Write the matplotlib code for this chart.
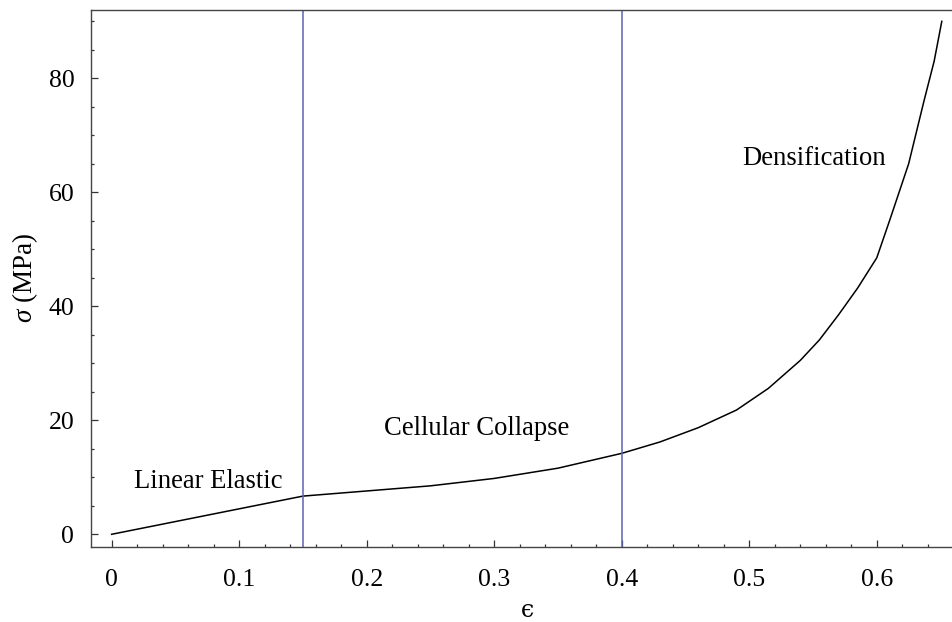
import numpy as np
import matplotlib.pyplot as plt
from matplotlib.ticker import MultipleLocator

# stress-strain curve of a cellular solid under compression
strain = [0, 0.15, 0.2, 0.25, 0.3, 0.35, 0.4, 0.43, 0.46, 0.49, 0.515,
          0.54, 0.555, 0.57, 0.585, 0.6, 0.61, 0.625, 0.637, 0.645, 0.651]
stress = [0, 6.7, 7.6, 8.5, 9.8, 11.6, 14.2, 16.2, 18.7, 21.8, 25.6,
          30.5, 34.1, 38.5, 43.2, 48.5, 55.0, 65.0, 76.0, 83.0, 90.0]

# regime boundaries and labels
bounds = [0.15, 0.4]
regions = ["Linear Elastic", "Cellular Collapse", "Densification"]
region_x = [0.076, 0.2865, 0.551]
region_y = [9.2, 18.6, 66.0]

xticks = [0, 0.1, 0.2, 0.3, 0.4, 0.5, 0.6]
xticklabels = ["0", "0.1", "0.2", "0.3", "0.4", "0.5", "0.6"]
yticks = [0, 20, 40, 60, 80]

plt.rcParams['font.family'] = ['Liberation Serif', 'DejaVu Serif']
plt.rcParams['mathtext.fontset'] = 'custom'
plt.rcParams['mathtext.it'] = 'Liberation Serif:italic'
plt.rcParams['mathtext.rm'] = 'Liberation Serif'

fig = plt.figure(figsize=(9.52, 6.22), dpi=100)
ax = fig.add_axes([91 / 952, 75 / 622, 1 - 91 / 952, (547 - 9.5) / 622])

ax.plot(strain, stress, color='black', lw=1.1)
for b in bounds:
    ax.axvline(b, color='#5c62b4', lw=1.1)

for txt, x, y in zip(regions, region_x, region_y):
    ax.text(x, y, txt, ha='center', va='center', fontsize=19.2)

ax.set_xlim(-0.0162, 0.659)
ax.set_ylim(-2.23, 92.07)

ax.set_xticks(xticks)
ax.set_xticklabels(xticklabels)
ax.set_yticks(yticks)
ax.xaxis.set_minor_locator(MultipleLocator(0.02))
ax.yaxis.set_minor_locator(MultipleLocator(5))
ax.tick_params(which='both', direction='in', top=False, right=False,
               color='#333333', width=0.9, labelsize=18.5)
ax.tick_params(which='major', length=5)
ax.tick_params(axis='x', which='major', pad=16)
ax.tick_params(axis='y', which='major', pad=12)
ax.tick_params(which='minor', length=2.5)

for side in ['left', 'bottom', 'top']:
    ax.spines[side].set_color('#444444')
    ax.spines[side].set_linewidth(1.0)
ax.spines['right'].set_visible(False)

ax.set_xlabel('ϵ', fontsize=17, family=['DejaVu Serif'], labelpad=5)
ax.xaxis.set_label_coords(0.507, -0.097)
ax.set_ylabel(r'$\sigma$ (MPa)', fontsize=19.5, labelpad=6)

fig.savefig('out.png', dpi=100)
